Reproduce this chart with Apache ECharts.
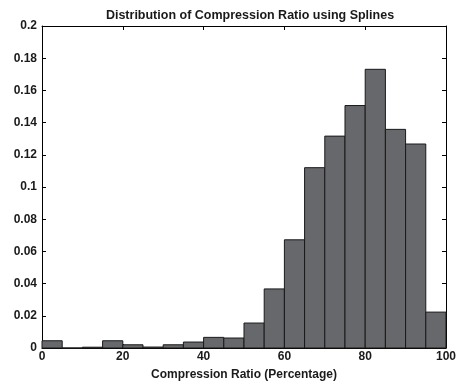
<!DOCTYPE html>
<html><head><meta charset="utf-8">
<script src="https://cdn.jsdelivr.net/npm/echarts@6/dist/echarts.min.js"></script>
<style>html,body{margin:0;padding:0;background:#fff}#c{width:459px;height:386px}</style>
</head><body><div id="c"></div>
<script>
const binStarts = [0,5,10,15,20,25,30,35,40,45,50,55,60,65,70,75,80,85,90,95];
const binWidth = 5;
const frequencies = [0.0045,0,0.0005,0.0045,0.002,0.0006,0.002,0.0037,0.0066,0.0062,0.0155,0.0367,0.0672,0.112,0.1316,0.1506,0.1731,0.1358,0.1267,0.0223];
const xTicks = [0,20,40,60,80,100];
const yTicks = [0,0.02,0.04,0.06,0.08,0.1,0.12,0.14,0.16,0.18,0.2];
const titleText = 'Distribution of Compression Ratio using Splines';
const xLabel = 'Compression Ratio (Percentage)';

const font = 'Liberation Sans, Arial, Helvetica, sans-serif';
const data = binStarts.map((s,i)=>[s, s+binWidth, frequencies[i]]);
const chart = echarts.init(document.getElementById('c'));
const axisLine = {show:true, onZero:false, lineStyle:{color:'#000', width:1}};
const tick = {show:true, inside:true, length:4, lineStyle:{color:'#000'}};
chart.setOption({
  animation:false,
  title:{text:titleText, left:245, textAlign:'center', top:4, textStyle:{fontFamily:font, fontSize:12.5, fontWeight:'bold', color:'#1a1a1a'}},
  grid:{left:42, right:12, top:26, bottom:37},
  xAxis:[{type:'value', min:0, max:100, interval:20, position:'bottom',
    axisLine:axisLine, axisTick:tick,
    axisLabel:{fontFamily:font, fontWeight:'bold', fontSize:12, color:'#1a1a1a', margin:3},
    splitLine:{show:false},
    name:xLabel, nameLocation:'middle', nameGap:21,
    nameTextStyle:{fontFamily:font, fontWeight:'bold', fontSize:12, color:'#1a1a1a'}},
    {type:'value', min:0, max:100, interval:20, position:'top',
    axisLine:axisLine, axisTick:tick,
    axisLabel:{show:false}, splitLine:{show:false}}],
  yAxis:[{type:'value', min:0, max:0.2, interval:0.02, position:'left',
    axisLine:axisLine, axisTick:tick,
    axisLabel:{fontFamily:font, fontWeight:'bold', fontSize:12, color:'#1a1a1a', margin:5,
      formatter:v=>{const t=yTicks.find(y=>Math.abs(y-v)<1e-9); return t===undefined?'':String(+t.toFixed(2));}},
    splitLine:{show:false}},
    {type:'value', min:0, max:0.2, interval:0.02, position:'right',
    axisLine:axisLine, axisTick:tick,
    axisLabel:{show:false}, splitLine:{show:false}}],
  series:[{type:'custom', xAxisIndex:0, yAxisIndex:0, data:data,
    renderItem:(params, api)=>{
      const p0 = api.coord([api.value(0), api.value(2)]);
      const p1 = api.coord([api.value(1), 0]);
      return {type:'rect', shape:{x:p0[0], y:p0[1], width:p1[0]-p0[0], height:p1[1]-p0[1]},
        style:{fill:'#67686c', stroke:'#1a1a1a', lineWidth:1}};
    }, encode:{x:[0,1], y:2}}]
});
</script></body></html>
